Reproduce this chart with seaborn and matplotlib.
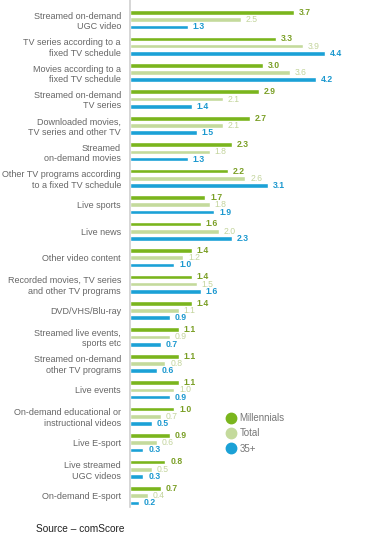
import pandas as pd
import matplotlib.pyplot as plt
import seaborn as sns
from matplotlib.lines import Line2D

# categories (top to bottom)
categories = [
    "Streamed on-demand\nUGC video",
    "TV series according to a\nfixed TV schedule",
    "Movies according to a\nfixed TV schedule",
    "Streamed on-demand\nTV series",
    "Downloaded movies,\nTV series and other TV",
    "Streamed\non-demand movies",
    "Other TV programs according\nto a fixed TV schedule",
    "Live sports",
    "Live news",
    "Other video content",
    "Recorded movies, TV series\nand other TV programs",
    "DVD/VHS/Blu-ray",
    "Streamed live events,\nsports etc",
    "Streamed on-demand\nother TV programs",
    "Live events",
    "On-demand educational or\ninstructional videos",
    "Live E-sport",
    "Live streamed\nUGC videos",
    "On-demand E-sport",
]
millennials = [3.7, 3.3, 3.0, 2.9, 2.7, 2.3, 2.2, 1.7, 1.6, 1.4, 1.4, 1.4, 1.1, 1.1, 1.1, 1.0, 0.9, 0.8, 0.7]
total = [2.5, 3.9, 3.6, 2.1, 2.1, 1.8, 2.6, 1.8, 2.0, 1.2, 1.5, 1.1, 0.9, 0.8, 1.0, 0.7, 0.6, 0.5, 0.4]
over35 = [1.3, 4.4, 4.2, 1.4, 1.5, 1.3, 3.1, 1.9, 2.3, 1.0, 1.6, 0.9, 0.7, 0.6, 0.9, 0.5, 0.3, 0.3, 0.2]
groups = ["Millennials", "Total", "35+"]

bar_colors = ["#7ab51d", "#c4da9c", "#1ba1d6"]
text_colors = ["#7a9f25", "#c3d49c", "#1b98cf"]

df = pd.DataFrame({
    "category": categories * 3,
    "group": [groups[0]] * 19 + [groups[1]] * 19 + [groups[2]] * 19,
    "value": millennials + total + over35,
})

sns.set_style("white")
plt.rcParams["font.family"] = ["Liberation Sans", "DejaVu Sans"]

fig = plt.figure(figsize=(3.74, 5.38), dpi=100)
ax = fig.add_axes([130 / 374, 1 - 507 / 538, 1 - 130 / 374, 507 / 538])

sns.barplot(data=df, y="category", x="value", hue="group", hue_order=groups,
            palette=bar_colors, orient="h", width=0.82, gap=0.36,
            saturation=1, legend=False, ax=ax)

for cont, col, wt in zip(ax.containers, text_colors, ["bold", "normal", "bold"]):
    ax.bar_label(cont, fmt="%.1f", padding=3.5, color=col, fontsize=6.2, fontweight=wt)

ax.set_xlim(0, 5.5)
ax.set_ylim(18.43, -0.745)
ax.set_xlabel("")
ax.set_ylabel("")
ax.set_xticks([])
for s in ["top", "right", "bottom"]:
    ax.spines[s].set_visible(False)
ax.spines["left"].set_color("#cfcfcf")
ax.spines["left"].set_linewidth(1.2)
ax.tick_params(axis="y", length=0, pad=6.5, labelsize=6.5, labelcolor="#666666")

handles = [Line2D([], [], marker="o", linestyle="", markersize=7.5,
                  markerfacecolor=c, markeredgecolor=c) for c in bar_colors]
fig.legend(handles, groups, loc="upper left", bbox_to_anchor=(226 / 374, 1 - 413 / 538),
           frameon=False, fontsize=7, labelcolor="#777777", handlelength=1.0,
           handletextpad=0.4, labelspacing=0.55, borderpad=0, borderaxespad=0)

fig.text(36 / 374, 1 - 529 / 538, "Source \u2013 comScore", fontsize=7.3,
         color="#222222", va="center", ha="left")

fig.savefig("out.png", dpi=100)
